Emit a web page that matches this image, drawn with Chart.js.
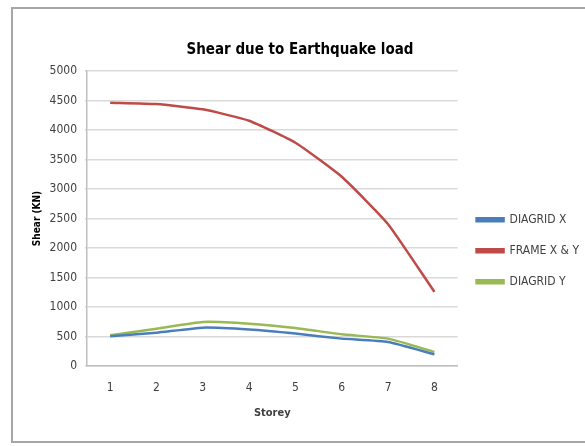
<!DOCTYPE html>
<html>
<head>
<meta charset="utf-8">
<script src="https://cdn.jsdelivr.net/npm/chart.js@4"></script>
<style>
	html, body { margin: 0; padding: 0; background: #fff; }
	#quadro { position: absolute; left: 11px; top: 7px; width: 590px; height: 436px; border: 2px solid #a6a6a6; box-sizing: border-box; }
	#grafico { position: absolute; left: 0; top: 0; }
</style>
</head>
<body>
<div id="quadro"></div>
<canvas id="grafico" width="585" height="446"></canvas>
<script>
var andares = ['1', '2', '3', '4', '5', '6', '7', '8'];
var diagridX = [503, 565, 650, 617, 549, 464, 407, 198];
var frameXY = [4463, 4440, 4350, 4157, 3784, 3207, 2404, 1256];
var diagridY = [520, 633, 747, 718, 645, 537, 464, 238];
var ticksY = [0, 500, 1000, 1500, 2000, 2500, 3000, 3500, 4000, 4500, 5000];

var fonte = "'DejaVu Sans Condensed', 'DejaVu Sans', sans-serif";

var ctx = document.getElementById('grafico').getContext('2d');
var grafico = new Chart(ctx, {
	type: 'line',
	data: {
		labels: andares,
		datasets: [{
			label: 'DIAGRID X',
			borderColor: '#4a7ebb',
			backgroundColor: '#4a7ebb',
			data: diagridX
		},
		{
			label: 'FRAME X & Y',
			borderColor: '#be4b48',
			backgroundColor: '#be4b48',
			data: frameXY
		},
		{
			label: 'DIAGRID Y',
			borderColor: '#98b954',
			backgroundColor: '#98b954',
			data: diagridY
		}]
	},
	options: {
		responsive: false,
		animation: false,
		elements: {
			line: { borderWidth: 2.5, tension: 0.15 },
			point: { radius: 0 }
		},
		layout: { padding: { left: 11, right: -4, top: 41, bottom: 22 } },
		plugins: {
			title: {
				display: true,
				text: 'Shear due to Earthquake load',
				color: '#000',
				font: { family: fonte, size: 15, weight: 'bold' },
				padding: { top: 0, bottom: 12 }
			},
			legend: {
				position: 'right',
				title: { display: true, text: ' ', font: { size: 12 }, padding: { top: 11, bottom: 11 } },
				labels: {
					boxWidth: 27,
					boxHeight: 3,
					padding: 19,
					color: '#404040',
					font: { family: fonte, size: 12 }
				}
			},
			tooltip: { enabled: false }
		},
		scales: {
			x: {
				offset: true,
				afterFit: function(eixo) { eixo.height = 58; },
				grid: { display: false, drawTicks: false },
				border: { color: '#bfbfbf', width: 1.5 },
				ticks: { color: '#404040', font: { family: fonte, size: 12 }, padding: 15 },
				title: { display: true, text: 'Storey', color: '#404040', font: { family: fonte, size: 11, weight: 'bold' }, padding: { top: 4, bottom: 4 } }
			},
			y: {
				min: 0,
				max: 5000,
				afterBuildTicks: function(eixo) {
					eixo.ticks = ticksY.map(function(v) { return { value: v }; });
				},
				afterFit: function(eixo) { eixo.width = 76; },
				grid: { color: '#d9d9d9', lineWidth: 1.5, tickLength: 2 },
				border: { color: '#bfbfbf', width: 1.5 },
				ticks: {
					color: '#404040',
					font: { family: fonte, size: 12 },
					padding: 8,
					callback: function(v) { return String(v); }
				},
				title: { display: true, text: 'Shear (KN)', color: '#000', font: { family: fonte, size: 10, weight: 'bold' }, padding: { top: 20, bottom: 0 } }
			}
		}
	}
});
</script>
</body>
</html>
